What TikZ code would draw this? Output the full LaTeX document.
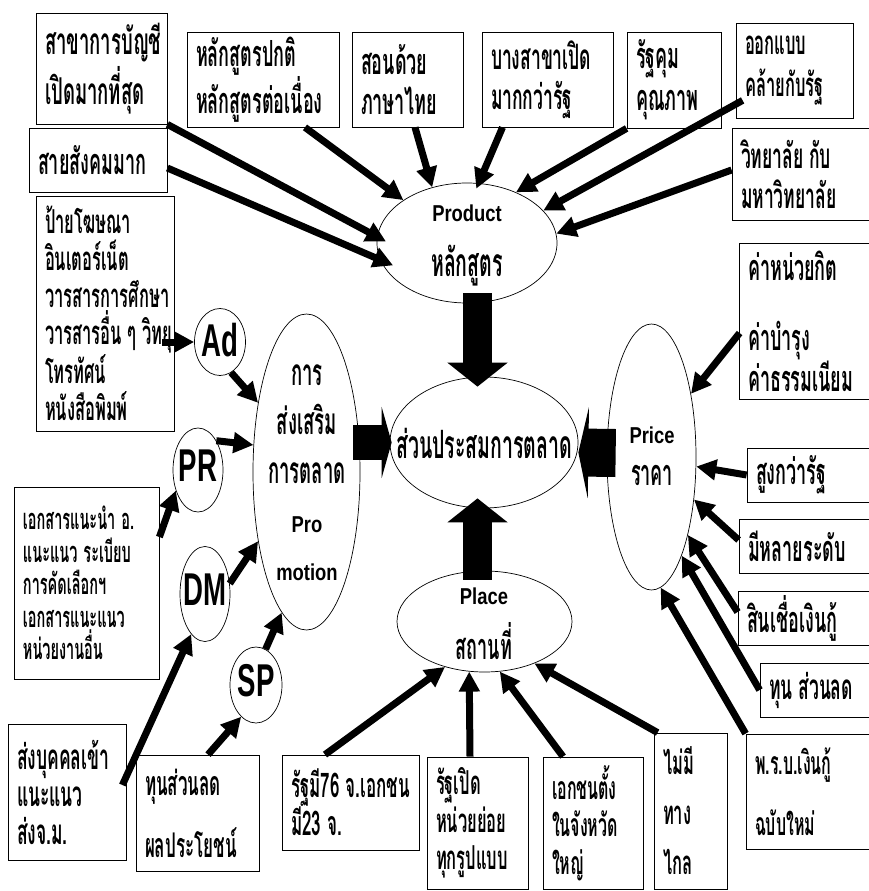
\documentclass[tikz,border=0pt]{standalone}
\usepackage{fontspec}
\newfontfamily\thai[Script=Thai,FakeStretch=0.5]{Loma}
\newfontfamily\latn[FakeStretch=0.8]{Liberation Sans}
\newfontfamily\latnarrow[FakeStretch=0.6]{Liberation Sans}
\usetikzlibrary{shapes.geometric,arrows.meta,calc}
% narrow word space for the Thai lines
\newcommand\tsp{\hspace{6pt}}
% Latin word inside a Thai label
\newcommand\latword[1]{{\latn\bfseries\fontsize{23}{49}\selectfont #1}}
\tikzset{
  tb/.code n args={4}{%
    \pgfmathsetmacro\tbw{#1-18}%
    \tikzset{draw, line width=0.8pt, rectangle, inner xsep=9pt, inner ysep=0pt,
      minimum width=#1pt, minimum height=#2pt, text width=\tbw pt, align=left,
      font={\thai\bfseries\fontsize{#4}{#3}\selectfont}}},
  ell/.style={draw, line width=0.7pt, ellipse, inner sep=0pt},
  lbl/.style={inner sep=0pt, align=center},
  conn/.style={line width=7pt, -{Triangle[length=20pt,width=20pt]}},
  bigv/.style={line width=29pt, -{Triangle[length=24pt,width=59pt]}},
  bigl/.style={line width=35pt, -{Triangle[length=10pt,width=71pt]}},
  bigr/.style={line width=48pt, -{Triangle[length=10pt,width=91pt]}},
  circ/.style={inner sep=0pt, font={\latnarrow\bfseries\fontsize{46}{46}\selectfont}},
}
\begin{document}
\begin{tikzpicture}[x=1pt,y=-1pt]
\fill[white] (0,0) rectangle (869,891);
\useasboundingbox (0,0) rectangle (869,891);

% ---- ellipses of the marketing mix ----
\node[ell, minimum width=180pt, minimum height=120pt] (prod) at (467,243) {};
\node[ell, minimum width=188pt, minimum height=131pt] (mix) at (484,442.5) {};
\node[ell, minimum width=107pt, minimum height=316pt] (promo) at (306.5,472) {};
\node[ell, minimum width=89pt, minimum height=266pt] (price) at (651.5,457) {};
\node[ell, minimum width=175pt, minimum height=101pt] (place) at (484.5,621.5) {};
\node[ell, minimum width=51pt, minimum height=67pt] (ad) at (220,342) {};
\node[ell, minimum width=50pt, minimum height=84pt] (pr) at (198,470) {};
\node[ell, minimum width=50pt, minimum height=95pt] (dm) at (205,594) {};
\node[ell, minimum width=52pt, minimum height=76pt] (sp) at (256,685) {};

\node[lbl, font={\thai\bfseries\fontsize{39}{55}\selectfont}] (prodtxt) at (467,245) {\latword{Product}\\หลักสูตร};
\node[lbl, font={\thai\bfseries\fontsize{39}{49}\selectfont}] (mixtxt) at (484,443) {ส่วนประสมการตลาด};
\node[lbl, font={\thai\bfseries\fontsize{37}{48.75}\selectfont}] (promotxt) at (307,473) {การ\\ส่งเสริม\\การตลาด\\\latword{Pro}\\\latword{motion}};
\node[lbl, font={\thai\bfseries\fontsize{36}{42}\selectfont}] (pricetxt) at (652,456) {\latword{Price}\\ราคา};
\node[lbl, font={\thai\bfseries\fontsize{36}{55}\selectfont}] (placetxt) at (484,624) {\latword{Place}\\สถานที่};
\node[circ] (adtxt) at (220,340) {Ad};
\node[circ] (prtxt) at (198,466) {PR};
\node[circ] (dmtxt) at (205,590) {DM};
\node[circ] (sptxt) at (256,681) {SP};

% ---- text boxes: width, height, line pitch, font size ----
\node[tb={131}{111}{50}{37}] (sa) at (101.5,68.5) {สาขาการบัญชี\\เปิดมากที่สุด};
\node[tb={138}{64}{40}{36}] (ss) at (98,160) {สายสังคมมาก};
\node[tb={152}{95}{40}{36}] (hl) at (263,79.5) {หลักสูตรปกติ\\หลักสูตรต่อเนื่อง};
\node[tb={111}{95}{40}{36}] (sd) at (407.5,79.5) {สอนด้วย\\ภาษาไทย};
\node[tb={131}{95}{40}{35}] (bs) at (547.5,79.5) {บางสาขาเปิด\\มากกว่ารัฐ};
\node[tb={94}{96}{42}{36}] (rk) at (674,80) {รัฐคุม\\คุณภาพ};
\node[tb={117}{95}{42}{33}] (ok) at (794.5,70.5) {ออกแบบ\\คล้ายกับรัฐ};
\node[tb={138}{92}{40}{35}] (wt) at (801,174) {\mbox{วิทยาลัย\tsp กับ}\\มหาวิทยาลัย};
\node[tb={138}{235}{37}{33}] (pa) at (105,313.5) {ป้ายโฆษณา\\อินเตอร์เน็ต\\วารสารการศึกษา\\\mbox{วารสารอื่น\tsp ๆ\tsp วิทยุ}\\โทรทัศน์\\หนังสือพิมพ์};
\node[tb={145}{192}{32.5}{29}] (ex) at (86.5,583) {\mbox{เอกสารแนะนำ\tsp อ.}\\\mbox{แนะแนว\tsp ระเบียบ}\\การคัดเลือกฯ\\เอกสารแนะแนว\\หน่วยงานอื่น};
\node[tb={118}{136}{37.5}{35}] (sb) at (67,792) {ส่งบุคคลเข้า\\แนะแนว\\ส่งจ.ม.};
\node[tb={123}{116}{62}{34}] (tn) at (197.5,813) {ทุนส่วนลด\\ผลประโยชน์};
\node[tb={137}{95}{38}{34}] (r76) at (350.5,802.5) {\mbox{รัฐมี76\tsp จ.เอกชน}\\\mbox{มี23\tsp จ.}};
\node[tb={101}{132}{37.5}{33}] (rp) at (477.5,823) {รัฐเปิด\\หน่วยย่อย\\ทุกรูปแบบ};
\node[tb={100}{132}{37.5}{32}] (ec) at (593,823) {เอกชนตั้ง\\ในจังหวัด\\ใหญ่};
\node[tb={73}{156}{50}{33}] (nm) at (690.5,811) {ไม่มี\\ทาง\\ไกล};
\node[tb={124}{115}{61}{32}] (pb) at (808,791.5) {พ.ร.บ.เงินกู้\\ฉบับใหม่};
\node[tb={131}{156}{34}{36}] (kp) at (804.5,321) {ค่าหน่วยกิต\\[36pt]ค่าบำรุง\\ค่าธรรมเนียม};
\node[tb={123}{54}{40}{36}] (sg) at (808.5,475) {สูงกว่ารัฐ};
\node[tb={131}{54}{40}{36}] (ml) at (804.5,546) {มีหลายระดับ};
\node[tb={132}{54}{40}{36}] (sc) at (804,618) {สินเชื่อเงินกู้};
\node[tb={110}{54}{40}{35}] (tp) at (815,690) {\mbox{ทุน\tsp ส่วนลด}};

% ---- block arrows into the mix ----
\draw[bigv] ($(prod.south)+(10.5,-10)$) -- ($(mix.north)+(-6.5,10)$);
\draw[bigv] ($(place.north)+(-7,9)$) -- ($(mix.south)+(-6.5,-10)$);
\draw[bigl] ($(promo.east)+(-7,-29.5)$) -- ($(mix.west)+(2,0)$);
\draw[bigr] ($(price.west)+(9,-4)$) -- ($(mix.east)+(0,10)$);

% ---- product ----
\draw[conn, shorten >=-10pt] (sa.south east) -- (prod.176);
\draw[conn, shorten >=-14pt] ($(ss.east)+(0,8)$) -- (prod.191);
\draw[conn] ($(hl.south)+(42,0)$) -- (prod.146);
\draw[conn] ($(sd.south)+(7.5,0)$) -- (prod.122.6);
\draw[conn, shorten >=-6pt] ($(bs.south)+(-45,0)$) -- (prod.79.3);
\draw[conn] (rk.south west) -- (prod.46.7);
\draw[conn] ($(ok.south west)+(7,-18)$) -- (prod.23.9);
\draw[conn] ($(wt.west)+(0,-4)$) -- (prod.6.5);

% ---- promotion ----
\draw[conn] ($(pa.east |- ad.west)+(-12,0)$) -- (ad.west);
\draw[conn] (ad.-70) -- (promo.125);
\draw[conn] (pr.58.6) -- (promo.153.4);
\draw[conn] ($(ex.east)+(0,-46)$) -- (pr.223);
\draw[conn] (dm.23.7) -- (promo.235.6);
\draw[conn] ($(sb.east)+(-4,-7)$) -- (dm.251.6);
\draw[conn] (sp.75.6) -- (promo.260.8);
\draw[conn] ($(tn.north)+(10.5,0)$) -- (sp.245);

% ---- price ----
\draw[conn] ($(kp.west)+(1,12)$) -- (price.58.2);
\draw[conn] (sg.west) -- (price.-12.4);
\draw[conn] ($(ml.west)+(0,-6)$) -- (price.-45.4);
\draw[conn] ($(sc.west)+(0,-6)$) -- (price.-65);
\draw[conn] (tp.west) -- (price.-73.8);
\draw[conn] (pb.north west) -- (price.-86.1);

% ---- place ----
\draw[conn] ($(r76.north)+(-25.5,0)$) -- (place.229.7);
\draw[conn] ($(rp.north)+(-7.5,0)$) -- (place.253.8);
\draw[conn] ($(ec.north)+(-30,0)$) -- (place.287.3);
\draw[conn] ($(nm.north west)+(4,0)$) -- (place.-40);
\end{tikzpicture}
\end{document}
